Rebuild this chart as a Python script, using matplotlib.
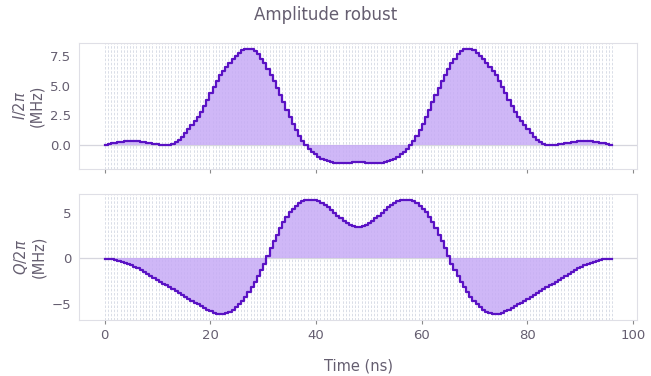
import numpy as np
import matplotlib
matplotlib.use("Agg")
import matplotlib.pyplot as plt

# segment values (MHz), 0.6 ns segments
seg_dur = 0.6
i_vals = [0.02, 0.07, 0.12, 0.16, 0.2, 0.24, 0.29, 0.32, 0.33, 0.31,
          0.28, 0.25, 0.21, 0.16, 0.12, 0.08, 0.04, 0.0, -0.03, -0.04,
          -0.04, 0.04, 0.2, 0.39, 0.66, 0.96, 1.3, 1.65, 2.01, 2.37,
          2.75, 3.26, 3.82, 4.39, 4.93, 5.42, 5.88, 6.25, 6.6, 6.9,
          7.22, 7.55, 7.8, 8.0, 8.1, 8.14, 8.08, 7.9, 7.64, 7.28,
          6.88, 6.43, 5.93, 5.41, 4.84, 4.24, 3.6, 2.98, 2.35, 1.79,
          1.25, 0.74, 0.32, -0.05, -0.35, -0.6, -0.82, -1.0, -1.17, -1.29,
          -1.4, -1.49, -1.53, -1.55, -1.55, -1.55, -1.52, -1.5, -1.49, -1.48,
          -1.48, -1.49, -1.5, -1.52, -1.55, -1.55, -1.55, -1.53, -1.49, -1.4,
          -1.29, -1.17, -1.0, -0.82, -0.6, -0.35, -0.05, 0.32, 0.74, 1.25,
          1.79, 2.35, 2.98, 3.6, 4.24, 4.84, 5.41, 5.93, 6.43, 6.88,
          7.28, 7.64, 7.9, 8.08, 8.14, 8.1, 8.0, 7.8, 7.55, 7.22,
          6.9, 6.6, 6.25, 5.88, 5.42, 4.93, 4.39, 3.82, 3.26, 2.75,
          2.37, 2.01, 1.65, 1.3, 0.96, 0.66, 0.39, 0.2, 0.04, -0.04,
          -0.04, -0.03, 0.0, 0.04, 0.08, 0.12, 0.16, 0.21, 0.25, 0.28,
          0.31, 0.33, 0.32, 0.29, 0.24, 0.2, 0.16, 0.12, 0.07, 0.02]
q_vals = [-0.02, -0.05, -0.1, -0.17, -0.25, -0.36, -0.48, -0.6, -0.73, -0.91,
          -1.1, -1.32, -1.53, -1.74, -1.95, -2.16, -2.37, -2.58, -2.79, -2.99,
          -3.21, -3.42, -3.63, -3.84, -4.05, -4.26, -4.47, -4.68, -4.89, -5.1,
          -5.31, -5.52, -5.7, -5.88, -6.03, -6.13, -6.19, -6.15, -6.08, -5.93,
          -5.7, -5.4, -5.05, -4.68, -4.23, -3.73, -3.19, -2.6, -1.99, -1.33,
          -0.57, 0.31, 1.13, 1.92, 2.64, 3.35, 4.04, 4.6, 5.12, 5.5,
          5.85, 6.15, 6.33, 6.46, 6.52, 6.52, 6.46, 6.33, 6.17, 5.96,
          5.7, 5.4, 5.08, 4.75, 4.45, 4.17, 3.9, 3.72, 3.58, 3.53,
          3.53, 3.58, 3.72, 3.9, 4.17, 4.45, 4.75, 5.08, 5.4, 5.7,
          5.96, 6.17, 6.33, 6.46, 6.52, 6.52, 6.46, 6.33, 6.15, 5.85,
          5.5, 5.12, 4.6, 4.04, 3.35, 2.64, 1.92, 1.13, 0.31, -0.57,
          -1.33, -1.99, -2.6, -3.19, -3.73, -4.23, -4.68, -5.05, -5.4, -5.7,
          -5.93, -6.08, -6.15, -6.19, -6.13, -6.03, -5.88, -5.7, -5.52, -5.31,
          -5.1, -4.89, -4.68, -4.47, -4.26, -4.05, -3.84, -3.63, -3.42, -3.21,
          -2.99, -2.79, -2.58, -2.37, -2.16, -1.95, -1.74, -1.53, -1.32, -1.1,
          -0.91, -0.73, -0.6, -0.48, -0.36, -0.25, -0.17, -0.1, -0.05, -0.02]
labels = ["$I/2\\pi$\n(MHz)", "$Q/2\\pi$\n(MHz)"]

line_col = "#5a12c4"
fill_col = "#c7abf6"
text_col = "#655e70"
spine_col = "#dfdfe6"

plt.rcParams["mathtext.fontset"] = "dejavusans"

fig, axs = plt.subplots(2, 1, figsize=(6.51, 3.76), dpi=100, sharex=True)
fig.subplots_adjust(left=0.122, right=0.979, top=0.886, bottom=0.149, hspace=0.2)

for ax, vals, lab in zip(axs, [i_vals, q_vals], labels):
    vals = np.array(vals)
    edges = np.arange(len(vals) + 1) * seg_dur
    yy = np.append(vals, vals[-1])
    # dashed line on every segment boundary
    for e in edges:
        ax.axvline(e, color="#d3d8e3", lw=0.6, ls=(0, (3, 2)), zorder=0)
    ax.axhline(0, color="#d6d6de", lw=0.9, zorder=1)
    ax.fill_between(edges, yy, 0, step="post", color=fill_col, alpha=0.85, lw=0, zorder=2)
    ax.step(edges, yy, where="post", color=line_col, lw=1.6, zorder=3)
    ax.set_ylabel(lab, color=text_col, fontsize=10.5, linespacing=1.1)
    for s in ax.spines.values():
        s.set_color(spine_col)
    ax.tick_params(axis="y", length=0, colors=text_col, labelsize=9.5, pad=6)
    ax.tick_params(axis="x", colors=text_col, labelsize=9.5, length=3, color="#8a8a8a")

axs[0].set_yticks([0.0, 2.5, 5.0, 7.5])
axs[1].set_yticks([-5, 0, 5])
axs[1].set_xticks([0, 20, 40, 60, 80, 100])
axs[1].set_xlabel("Time (ns)", color=text_col, fontsize=10.5, labelpad=12)
fig.suptitle("Amplitude robust", color=text_col, fontsize=12, y=0.985)

fig.savefig("out.png", dpi=100)
